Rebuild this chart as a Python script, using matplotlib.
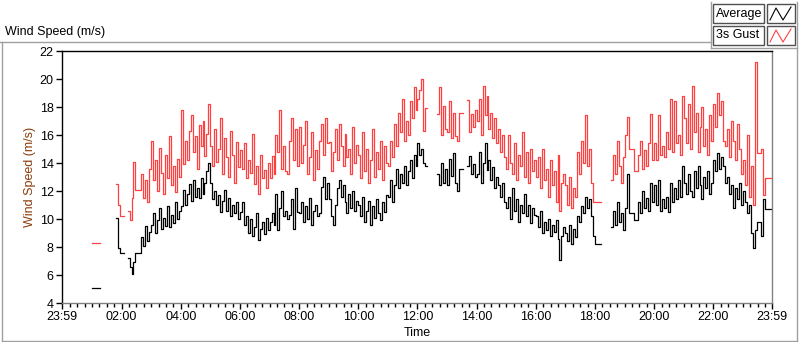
import numpy as np
import matplotlib.pyplot as plt
from matplotlib.lines import Line2D
from matplotlib.patches import Rectangle

nan = np.nan

# one reading every 4 minutes, minutes after midnight
minutes = np.arange(0, 1441, 4)

# Average wind speed (m/s), one row per hour
avg_speed = [
    nan, nan, nan, nan, nan, nan, nan, nan, nan, nan, nan, nan, nan, nan, nan,
    5.1, 5.1, 5.1, 5.1, nan, nan, nan, nan, nan, nan, nan, nan, 10.1, 7.9, 7.6,
    7.6, nan, nan, 7.2, 6.6, 6.1, 6.9, 7.6, 7.6, 7.6, 8.7, 8.1, 9.5, 8.4, 9.1,
    9.6, 10.4, 9.0, 9.9, 10.8, 9.3, 10.1, 9.5, 10.9, 9.4, 10.3, 9.7, 11.2, 10.0, 10.6,
    10.9, 12.1, 11.0, 11.8, 12.5, 11.3, 12.8, 11.6, 12.2, 11.5, 12.9, 11.8, 12.6, 13.4, 14.0,
    12.6, 11.4, 12.0, 11.0, 11.7, 10.5, 11.3, 12.1, 10.6, 11.5, 10.2, 11.0, 10.4, 11.2, 10.0,
    10.5, 11.2, 9.6, 10.2, 9.0, 10.0, 8.8, 9.4, 10.4, 8.5, 9.3, 9.8, 8.9, 10.1, 9.2,
    9.8, 10.4, 9.6, 11.8, 9.2, 10.8, 12.0, 10.2, 10.6, 10.0, 10.3, 11.4, 9.3, 12.2, 10.5,
    10.4, 11.2, 9.8, 10.9, 10.0, 11.5, 9.6, 10.6, 11.0, 10.2, 10.4, 12.3, 13.0, 11.4, 12.6,
    11.4, 10.2, 9.6, 11.0, 12.2, 12.8, 11.6, 12.4, 11.2, 10.4, 11.8, 10.8, 12.0, 10.6, 11.3,
    11.0, 10.2, 11.6, 9.8, 10.6, 11.3, 9.6, 10.9, 10.1, 11.4, 10.4, 9.9, 11.2, 10.5, 11.7,
    11.6, 12.8, 11.2, 12.4, 13.6, 12.2, 13.2, 12.6, 13.8, 12.4, 13.4, 14.2, 12.9, 14.6, 13.8,
    15.4, 14.6, 15.0, 14.0, 13.8, nan, nan, nan, nan, nan, 13.2, 12.4, 14.0, 12.6, 13.6,
    12.4, 14.3, 13.1, 14.7, 12.6, 12.0, 13.6, 13.6, nan, nan, 13.8, 14.5, 13.2, 13.9, 13.0,
    13.2, 14.8, 12.6, 14.0, 15.4, 13.5, 14.2, 12.8, 13.7, 12.2, 13.0, 12.4, 11.6, 12.6, 11.2,
    10.8, 11.6, 10.0, 12.2, 10.6, 11.4, 9.8, 11.0, 10.4, 11.8, 10.2, 11.0, 9.7, 10.8, 10.3,
    10.2, 9.4, 10.6, 9.0, 9.8, 9.2, 10.0, 8.8, 9.6, 9.1, 9.9, 8.6, 7.1, 8.8, 9.4,
    9.0, 8.4, 9.6, 8.2, 9.3, 8.7, 10.2, 9.8, 10.9, 10.4, 11.6, 10.8, 11.4, 10.2, 8.8,
    8.2, 8.2, 8.2, nan, nan, nan, nan, nan, 9.4, 10.6, 9.6, 11.2, 9.8, 10.4, 9.2,
    10.8, 13.2, 10.4, 10.4, 10.4, 9.9, 9.9, 11.2, 10.4, 12.0, 10.8, 11.5, 10.6, 12.6, 11.2,
    12.4, 11.0, 12.8, 10.6, 11.4, 10.8, 11.6, 10.5, 12.6, 11.2, 12.2, 11.4, 12.8, 11.6, 13.8,
    12.6, 11.8, 13.2, 12.0, 11.6, 13.4, 12.2, 13.8, 12.4, 11.4, 13.0, 12.2, 13.4, 11.8, 12.6,
    14.2, 13.4, 14.7, 13.6, 14.4, 13.8, 12.6, 13.0, 11.8, 12.4, 10.8, 12.2, 11.4, 12.6, 11.0,
    12.0, 11.2, 10.4, 11.0, 9.0, 7.9, 9.2, 9.8, 9.8, 8.8, 11.4, 10.7, 10.7, 10.7, 10.7,
    10.7,
]

# 3 second gust (m/s), one row per hour
gust_speed = [
    nan, nan, nan, nan, nan, nan, nan, nan, nan, nan, nan, nan, nan, nan, nan,
    8.3, 8.3, 8.3, 8.3, nan, nan, nan, nan, nan, nan, nan, nan, 12.5, 11.0, 10.2,
    10.2, nan, nan, 10.6, 9.9, 11.5, 14.1, 12.1, 12.1, 12.1, 13.2, 11.5, 12.8, 11.2, 13.6,
    15.6, 12.8, 14.2, 12.0, 15.1, 13.3, 11.8, 14.6, 12.9, 15.9, 12.4, 13.8, 11.9, 14.3, 13.0,
    17.8, 13.9, 15.6, 14.2, 16.3, 17.4, 14.8, 15.9, 13.6, 16.7, 15.2, 17.0, 14.5, 16.1, 18.2,
    15.2, 13.8, 16.4, 14.1, 15.0, 17.2, 13.2, 15.8, 14.4, 13.0, 16.3, 14.6, 12.6, 15.5, 13.7,
    14.9, 13.6, 15.4, 12.9, 14.2, 13.3, 16.1, 12.5, 13.8, 11.8, 14.6, 12.9, 13.5, 12.2, 14.0,
    12.9, 14.5, 13.2, 16.0, 14.8, 17.8, 13.6, 15.2, 13.4, 13.2, 15.6, 17.2, 14.2, 16.4, 13.8,
    16.6, 14.0, 15.3, 17.0, 13.2, 14.4, 16.2, 12.8, 14.9, 13.6, 15.6, 16.8, 14.6, 17.2, 15.4,
    15.5, 13.4, 14.8, 16.4, 14.2, 16.8, 15.2, 13.8, 16.1, 14.4, 15.0, 13.2, 16.6, 14.0, 15.3,
    14.6, 12.9, 16.2, 13.4, 15.0, 12.6, 14.2, 16.4, 13.0, 14.8, 13.6, 15.6, 12.8, 15.2, 14.0,
    13.8, 15.6, 14.4, 16.8, 15.2, 17.6, 16.2, 18.6, 15.6, 17.0, 16.0, 18.4, 17.2, 19.4, 17.8,
    18.6, 19.2, 20.0, 16.3, 17.9, nan, nan, nan, nan, nan, 17.5, 19.4, 16.0, 18.1, 16.4,
    16.2, 18.4, 15.8, 17.6, 15.9, 15.6, 17.6, 17.6, nan, nan, 18.5, 16.2, 17.5, 16.6, 17.8,
    17.0, 18.6, 16.0, 19.5, 17.4, 18.8, 16.4, 17.6, 15.8, 17.2, 15.4, 16.4, 14.8, 16.0, 14.4,
    13.6, 16.0, 14.0, 13.2, 15.4, 12.8, 14.6, 13.8, 16.2, 13.0, 14.8, 12.6, 15.0, 13.4, 14.2,
    13.0, 14.4, 12.2, 15.0, 12.8, 13.6, 11.6, 14.2, 12.4, 13.4, 11.2, 14.6, 10.6, 12.6, 13.2,
    12.4, 11.0, 13.0, 10.8, 12.2, 11.6, 14.8, 13.2, 15.6, 14.0, 17.4, 13.8, 15.0, 12.6, 11.2,
    11.2, 11.2, 11.2, nan, nan, nan, nan, nan, 12.8, 14.6, 13.2, 15.6, 13.8, 12.6, 14.4,
    16.0, 17.3, 15.0, 15.0, 15.0, 13.4, 13.4, 14.6, 15.6, 13.6, 14.9, 13.8, 15.4, 17.5, 14.2,
    15.4, 14.2, 17.4, 14.6, 15.2, 14.4, 16.2, 15.0, 18.6, 14.8, 18.4, 15.4, 16.0, 14.6, 18.8,
    17.2, 15.4, 18.2, 15.0, 19.5, 16.2, 17.6, 14.8, 16.6, 18.0, 15.2, 16.4, 14.6, 17.4, 15.6,
    18.2, 16.6, 19.0, 17.4, 18.4, 15.6, 15.2, 16.4, 14.4, 17.0, 15.6, 14.2, 16.8, 15.0, 13.2,
    14.2, 12.4, 16.0, 11.6, 13.8, 11.0, 21.2, 14.7, 14.7, 15.0, 11.7, 12.95, 12.95, 12.95, nan,
    nan,
]

tick_pos = [-1, 120, 240, 360, 480, 600, 720, 840, 960, 1080, 1200, 1320, 1439]
tick_labels = ['23:59', '02:00', '04:00', '06:00', '08:00', '10:00', '12:00',
               '14:00', '16:00', '18:00', '20:00', '22:00', '23:59']

plt.rcParams['font.family'] = ['Liberation Sans', 'DejaVu Sans']

W, H = 800, 342
fig = plt.figure(figsize=(8, 3.42), dpi=100)
fig.patch.set_facecolor('white')


def fx(px):
    return px / W


def fy(py):
    return 1 - py / H


ax = fig.add_axes([fx(62), fy(303), fx(772) - fx(62), fy(51) - fy(303)])

# thin stepped traces, like the original LabVIEW chart
ax.plot(minutes, avg_speed, drawstyle='steps-post', color='black', lw=0.9,
        snap=True)
ax.plot(minutes, gust_speed, drawstyle='steps-post', color='#ff4040', lw=0.9,
        snap=True)

ax.set_xlim(-1, 1439)
ax.set_ylim(4, 22)
ax.set_yticks(range(4, 23, 2))
ax.set_xticks(tick_pos)
ax.set_xticklabels(tick_labels)
ax.set_xticks([m for m in range(15, 1440, 15) if m % 120 != 0], minor=True)

ax.tick_params(axis='both', which='major', direction='out', length=4, width=1,
               labelsize=9, colors='black', pad=2)
ax.tick_params(axis='x', which='minor', direction='out', length=3, width=1,
               color='black')

for side in ['top', 'left']:
    ax.spines[side].set_color('black')
for side in ['right', 'bottom']:
    ax.spines[side].set_color('#808080')
for side in ax.spines:
    ax.spines[side].set_linewidth(1)

ax.set_ylabel('Wind Speed (m/s)', fontsize=9, color='#8a3c0a')
ax.yaxis.set_label_coords(-0.036, 0.5)
ax.set_xlabel('Time', fontsize=9, color='black')
ax.xaxis.set_label_coords(0.5, -0.095)

# chart title at top left
fig.text(fx(5), fy(32), 'Wind Speed (m/s)', fontsize=9, va='center', ha='left')

# outer frame of the chart control
frame = '#a0a0a0'
fig.add_artist(Line2D([fx(0), fx(711)], [fy(42), fy(42)], color=frame, lw=1))
fig.add_artist(Line2D([fx(1.5), fx(1.5)], [fy(42), fy(341)], color=frame, lw=1))
fig.add_artist(Line2D([fx(797), fx(797)], [fy(2), fy(341)], color=frame, lw=1))
fig.add_artist(Line2D([fx(1.5), fx(797)], [fy(341), fy(341)], color=frame, lw=1))
fig.add_artist(Line2D([fx(711), fx(711)], [fy(2), fy(48)], color=frame, lw=1))
fig.add_artist(Line2D([fx(711), fx(797)], [fy(48), fy(48)], color=frame, lw=1))

# legend boxes
legend_names = ['Average', '3s Gust']
legend_colors = ['black', '#ff4040']
for i, (name, col) in enumerate(zip(legend_names, legend_colors)):
    top = 4 + i * 22
    bot = top + 19
    fig.add_artist(Rectangle((fx(713), fy(bot)), fx(764) - fx(713), fy(top) - fy(bot),
                             transform=fig.transFigure, facecolor='white',
                             edgecolor='#505050', lw=1))
    fig.text(fx(716), fy((top + bot) / 2), name, fontsize=9, va='center', ha='left')
    fig.add_artist(Rectangle((fx(767), fy(bot)), fx(795) - fx(767), fy(top) - fy(bot),
                             transform=fig.transFigure, facecolor='white',
                             edgecolor='#505050', lw=1))
    zx = [770, 776, 783, 791]
    zy = [bot - 3, top + 4, bot - 3, top + 3]
    fig.add_artist(Line2D([fx(v) for v in zx], [fy(v) for v in zy], color=col, lw=0.8))

fig.savefig('out.png', dpi=100)
